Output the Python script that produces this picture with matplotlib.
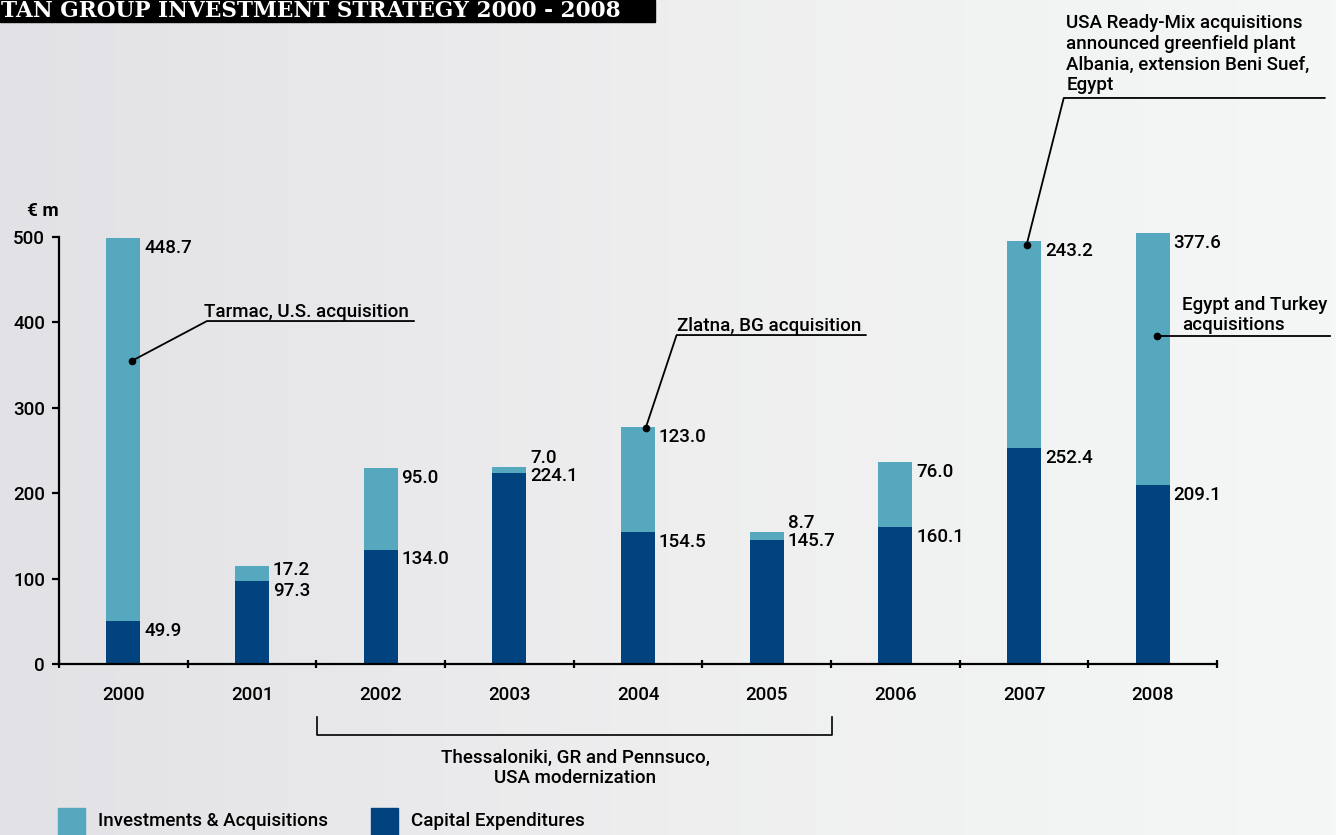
import numpy as np
import matplotlib.pyplot as plt
from matplotlib.patches import Rectangle
from matplotlib.colors import LinearSegmentedColormap

years = ['2000', '2001', '2002', '2003', '2004', '2005', '2006', '2007', '2008']
capex = [49.9, 97.3, 134.0, 224.1, 154.5, 145.7, 160.1, 252.4, 209.1]
# investments & acquisitions as drawn (the 2008 bar is drawn shorter than its printed label)
invest = [448.7, 17.2, 95.0, 7.0, 123.0, 8.7, 76.0, 243.2, 295.6]
capex_labels = ['49.9', '97.3', '134.0', '224.1', '154.5', '145.7', '160.1', '252.4', '209.1']
invest_labels = ['448.7', '17.2', '95.0', '7.0', '123.0', '8.7', '76.0', '243.2', '377.6']
yticks = [0, 100, 200, 300, 400, 500]

c_inv = '#55a8be'
c_cap = '#00437e'
plt.rcParams['font.family'] = ['Roboto', 'DejaVu Sans']
plt.rcParams['font.weight'] = 'medium'
fs = 13.5

W, H = 1336, 835
fig = plt.figure(figsize=(W / 100, H / 100), dpi=100)

# background gradient
bg = fig.add_axes([0, 0, 1, 1])
grad = np.linspace(0, 1, 256).reshape(1, -1)
cmap = LinearSegmentedColormap.from_list('bg', ['#e2e2e6', '#eeeeef', '#f5f7f6'])
bg.imshow(grad, aspect='auto', cmap=cmap, extent=[0, 1, 0, 1])
bg.set_xlim(0, 1)
bg.set_ylim(0, 1)
bg.axis('off')

# title bar (the left of the title is cut off in the source page)
bg.add_patch(Rectangle((0, 1 - 22 / H), 655 / W, 22 / H, color='black'))
bg.text(1 / W, 1 - 11 / H, 'TAN GROUP INVESTMENT STRATEGY 2000 - 2008', color='white',
        family='DejaVu Serif', fontweight='heavy', fontsize=15.6, ha='left', va='center')

ax = fig.add_axes([59 / W, (H - 664) / H, 1158 / W, 512.4 / H])
ax.patch.set_visible(False)
x = np.arange(len(years))
bw = 0.265
ax.bar(x, capex, bw, color=c_cap, zorder=2)
ax.bar(x, invest, bw, bottom=capex, color=c_inv, zorder=2)
ax.set_xlim(-0.5, 8.5)
ax.set_ylim(0, 600)

for s in ['top', 'right']:
    ax.spines[s].set_visible(False)
for s in ['left', 'bottom']:
    ax.spines[s].set_linewidth(1.6)
ax.spines['left'].set_bounds(0, 500)
ax.set_yticks(yticks)
ax.tick_params(axis='y', length=5, width=1.6, pad=5, labelsize=fs)
ax.set_xticks(np.arange(-0.5, 9, 1))
ax.set_xticklabels([])
ax.tick_params(axis='x', which='major', length=6, width=1.6, direction='inout')
ax.set_xticks(x, minor=True)
ax.set_xticklabels(years, minor=True)
ax.tick_params(axis='x', which='minor', length=0, pad=16, labelsize=fs)
ax.text(-0.5, 530, '€ m', fontsize=fs, fontweight='bold', ha='right', va='center')

# value labels
dx = bw / 2 + 0.03
for i in range(len(years)):
    tot = capex[i] + invest[i]
    if invest[i] < 10:
        ax.text(i + dx, tot, invest_labels[i], fontsize=fs, ha='left', va='bottom')
        ax.text(i + dx, tot, capex_labels[i], fontsize=fs, ha='left', va='top')
    elif invest[i] < 20:
        ax.text(i + dx, capex[i] + 2, invest_labels[i], fontsize=fs, ha='left', va='bottom')
        ax.text(i + dx, capex[i] - 1, capex_labels[i], fontsize=fs, ha='left', va='top')
    else:
        ax.text(i + dx, tot - 1, invest_labels[i], fontsize=fs, ha='left', va='top')
        ax.text(i + dx, capex[i] - 1, capex_labels[i], fontsize=fs, ha='left', va='top')

# annotations
def callout(pts, label, tx, ty):
    xs, ys = zip(*pts)
    ax.plot(xs, ys, color='black', lw=1.3, clip_on=False, zorder=3)
    ax.plot(xs[0], ys[0], 'o', color='black', ms=4.5, clip_on=False, zorder=3)
    ax.text(tx, ty, label, fontsize=fs, ha='left', va='bottom', linespacing=1.2)

callout([(0.067, 355), (0.65, 401.6), (2.258, 401.6)], 'Tarmac, U.S. acquisition', 0.63, 402)
callout([(4.06, 276.5), (4.30, 385.2), (5.77, 385.2)], 'Zlatna, BG acquisition', 4.30, 385.5)
callout([(7.02, 490.6), (7.309, 662.8), (9.337, 662.8)],
        'USA Ready-Mix acquisitions\nannounced greenfield plant\nAlbania, extension Beni Suef,\nEgypt',
        7.33, 667)
callout([(8.03, 384), (9.376, 384)], 'Egypt and Turkey\nacquisitions', 8.226, 386)

# bracket under 2002-2005
ax.plot([1.505, 1.505, 5.506, 5.506], [-62, -83.5, -83.5, -62], color='black', lw=1.2, clip_on=False)
ax.text(3.51, -99, 'Thessaloniki, GR and Pennsuco,\nUSA modernization', fontsize=fs,
        ha='center', va='top', linespacing=1.2)

# legend
for x0, col, lab in [(58, c_inv, 'Investments & Acquisitions'), (371, c_cap, 'Capital Expenditures')]:
    bg.add_patch(Rectangle((x0 / W, 0), 27 / W, 27 / H, color=col))
    bg.text((x0 + 40) / W, 14 / H, lab, fontsize=fs, ha='left', va='center')

fig.savefig('out.png', dpi=100)
